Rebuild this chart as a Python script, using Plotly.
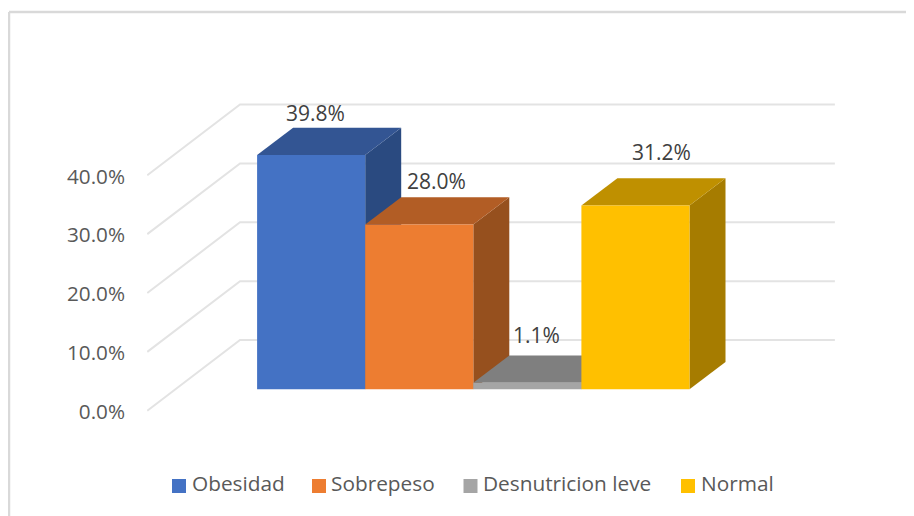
import plotly.graph_objects as go

# Data
categories = ["Obesidad", "Sobrepeso", "Desnutricion leve", "Normal"]
values = [39.8, 28.0, 1.1, 31.2]
labels = ["39.8%", "28.0%", "1.1%", "31.2%"]
tick_values = [0, 10, 20, 30, 40]
tick_labels = ["0.0%", "10.0%", "20.0%", "30.0%", "40.0%"]

# Colours
front = ["#4472C4", "#ED7D31", "#A5A5A5", "#FFC000"]
top = ["#335593", "#B25D25", "#7F7F7F", "#BF9000"]
side = ["#2A4A80", "#96501E", "#6B6B6B", "#A67C00"]
GRID = "#E3E3E3"
FRAME = "#D9D9D9"

# Oblique projection, in axis units
BAR_DX, BAR_DY = 0.333, 4.64
WALL_LEFT, WALL_BACK, WALL_RIGHT = -1.516, -0.658, 4.845
WALL_FRONT_DY, WALL_BACK_DY = -3.65, 8.37
TICK_DY = -3.82
HALF = 0.5

# Label nudges in pixels (right, up)
label_shift = [(4.5, 42), (17, 43.5), (9, 48), (26.5, 53.6)]

# The page has an 8px body margin, so the figure is 8px smaller than the window
PAGE = 8
W, H = 914 - PAGE, 516 - PAGE
M = dict(l=147 - PAGE, r=79, t=90 - PAGE, b=96, pad=0)
PW, PH = W - M["l"] - M["r"], H - M["t"] - M["b"]
X_RANGE = [-1.5185, 4.846]
Y_RANGE = [-5.215, 50.84]


def px(x):
    return (x - PAGE - M["l"]) / PW


def py(y):
    return (H - M["b"] - (y - PAGE)) / PH


# Legend layout, in window pixels
legend_swatch_x = [172, 312, 463.5, 681]
legend_text_x = [189.5, 328.5, 480.5, 698.5]
LEGEND_TOP, LEGEND_SIZE, LEGEND_MID = 479, 14, 483

fig = go.Figure()

# Gridlines on wall and floor
for v in tick_values:
    fig.add_trace(go.Scatter(
        x=[WALL_LEFT, WALL_BACK, WALL_RIGHT],
        y=[v + WALL_FRONT_DY, v + WALL_BACK_DY, v + WALL_BACK_DY],
        mode="lines", line=dict(color=GRID, width=2),
        showlegend=False, hoverinfo="skip", xaxis="x", yaxis="y"))

# Side and top faces
for i, v in enumerate(values):
    l, r = i - HALF, i + HALF
    fig.add_trace(go.Scatter(
        x=[r, r + BAR_DX, r + BAR_DX, r, r],
        y=[0, BAR_DY, v + BAR_DY, v, 0],
        mode="lines", fill="toself", fillcolor=side[i], line=dict(width=0),
        showlegend=False, hoverinfo="skip", xaxis="x", yaxis="y"))
    fig.add_trace(go.Scatter(
        x=[l, l + BAR_DX, r + BAR_DX, r, l],
        y=[v, v + BAR_DY, v + BAR_DY, v, v],
        mode="lines", fill="toself", fillcolor=top[i], line=dict(width=0),
        showlegend=False, hoverinfo="skip", xaxis="x", yaxis="y"))

# Front faces, overlaid on the depth faces
for i, (c, v) in enumerate(zip(categories, values)):
    fig.add_trace(go.Bar(
        x=[i], y=[v], width=1, name=c, marker=dict(color=front[i], line=dict(width=0)),
        showlegend=False, xaxis="x2", yaxis="y2"))

FONT = "Open Sans"
for i, v in enumerate(values):
    fig.add_annotation(
        x=i, y=v, xref="x2", yref="y2", text=labels[i], showarrow=False,
        xshift=label_shift[i][0], yshift=label_shift[i][1],
        xanchor="center", yanchor="middle",
        font=dict(family=FONT, size=21, color="#404040"))

shapes = [
    dict(type="line", xref="paper", yref="paper", x0=px(9), x1=px(914),
         y0=py(12), y1=py(12), line=dict(color=FRAME, width=2.5)),
    dict(type="line", xref="paper", yref="paper", x0=px(9), x1=px(9),
         y0=py(12), y1=py(516), line=dict(color=FRAME, width=2.5)),
]

# Legend: square swatch followed closely by its text
for i, c in enumerate(categories):
    shapes.append(dict(type="rect", xref="paper", yref="paper",
                       x0=px(legend_swatch_x[i]), x1=px(legend_swatch_x[i] + LEGEND_SIZE),
                       y0=py(LEGEND_TOP), y1=py(LEGEND_TOP + LEGEND_SIZE),
                       fillcolor=front[i], line=dict(width=0)))
    fig.add_annotation(x=px(legend_text_x[i]), y=py(LEGEND_MID), xref="paper", yref="paper",
                       text=c, showarrow=False, xanchor="left", yanchor="middle",
                       font=dict(family=FONT, size=20.8, color="#595959"))

hidden = dict(visible=False, fixedrange=True)
fig.update_layout(
    width=W, height=H, margin=M, autosize=False,
    paper_bgcolor="white", plot_bgcolor="rgba(0,0,0,0)",
    barmode="overlay", showlegend=False,
    font=dict(family=FONT, color="#595959", size=20),
    xaxis=dict(range=X_RANGE, **hidden),
    yaxis=dict(range=Y_RANGE, showgrid=False, zeroline=False, showline=False,
               tickvals=[v + TICK_DY for v in tick_values], ticktext=tick_labels,
               ticks="", ticklabelstandoff=21, tickfont=dict(family=FONT, size=20.7, color="#595959")),
    xaxis2=dict(range=X_RANGE, overlaying="x", **hidden),
    yaxis2=dict(range=Y_RANGE, overlaying="y", **hidden),
    shapes=shapes,
)

fig.write_html("out.html")
